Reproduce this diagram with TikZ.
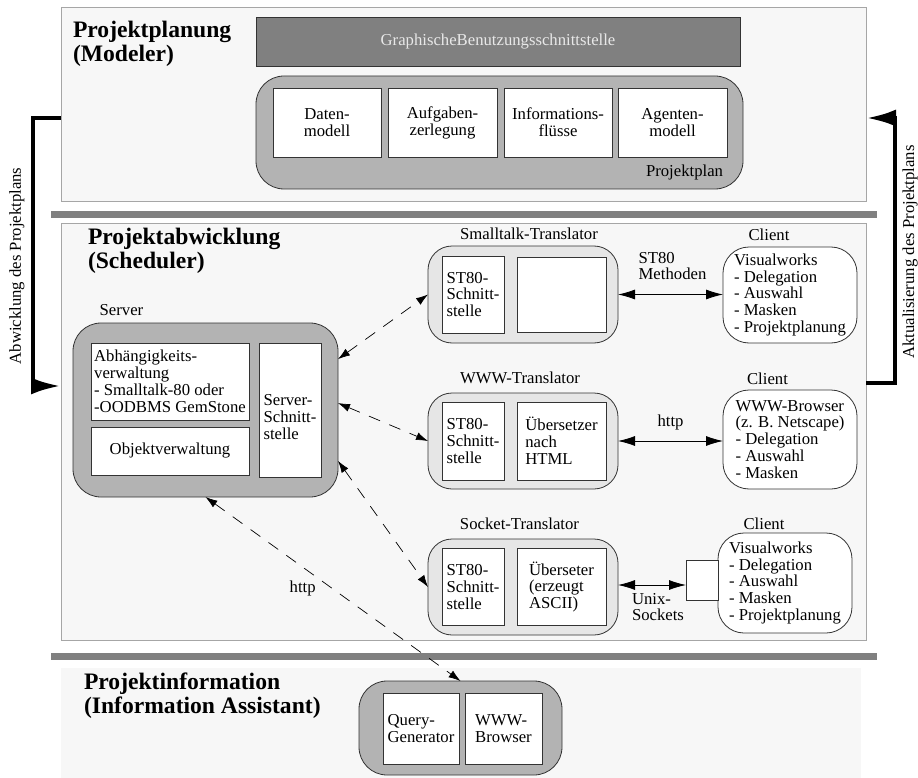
\documentclass[tikz,border=0pt]{standalone}
\usepackage{fontspec}
\setmainfont{Liberation Serif}
\usetikzlibrary{arrows.meta,calc}
\definecolor{panel}{HTML}{F7F7F7}
\definecolor{panelline}{HTML}{A6A6A6}
\definecolor{barcol}{HTML}{808080}
\definecolor{midgray}{HTML}{B3B3B3}
\definecolor{lightgray}{HTML}{E6E6E6}
\definecolor{guitext}{HTML}{E8E8E8}
\begin{document}
\begin{tikzpicture}[x=1pt,y=-1pt,
  font=\fontsize{16.7}{16.9}\selectfont,
  wh/.style 2 args={minimum width=#1pt, minimum height=#2pt},
  every node/.append style={inner sep=0pt, outer sep=0pt},
  panelbox/.style={draw=panelline, fill=panel, line width=1pt},
  barbox/.style={fill=barcol},
  groupbox/.style={draw=black!80, line width=0.8pt, fill=midgray, rounded corners=28pt},
  transbox/.style={draw=black!80, line width=0.8pt, fill=lightgray, rounded corners=24pt},
  clientbox/.style={draw=black!80, line width=0.8pt, fill=white, rounded corners=26pt, align=left},
  whitebox/.style={draw=black!80, line width=0.8pt, fill=white},
  titletext/.style={font=\fontsize{23.6}{24}\bfseries\selectfont, align=left, anchor=north west},
  dasharrow/.style={dash pattern=on 12pt off 10pt, line width=0.7pt, {Latex[length=12pt,width=8pt]}-{Latex[length=12pt,width=8pt]}},
  solidarrow/.style={line width=0.8pt, {Latex[length=17pt,width=10pt]}-{Latex[length=17pt,width=10pt]}},
  bigarrow/.style={line width=4.5pt, line join=miter, -{Latex[length=30pt,width=17pt]}}
]
\useasboundingbox (0,0) rectangle (918,778);

% panels and bars
\node[panelbox, wh={805}{194}] (top) at (463.5,105) {};
\node[panelbox, wh={805}{416}] (midp) at (463.5,432) {};
\node[fill=panel, wh={800}{110}] (botp) at (461,723) {};
\node[barbox, wh={826}{7}] (bar1) at (464,214.5) {};
\node[barbox, wh={826}{7}] (bar2) at (464,656.5) {};

% titles
\node[titletext] (t1) at (73,21) {Projektplanung\\(Modeler)};
\node[titletext] (t2) at (88,228) {Projektabwicklung\\(Scheduler)};
\node[titletext] (t3) at (84,673) {Projektinformation\\(Information Assistant)};

% Modeler
\node[draw=black!80, line width=0.8pt, fill=barcol, text=guitext, wh={484}{49}] (gui) at (498,41.5) {GraphischeBenutzungsschnittstelle};
\node[groupbox, wh={487}{113}] (pplan) at (499.5,132.5) {};
\node[whitebox, wh={108}{69}, align=center] (dm) at (327,122.5) {Daten-\\modell};
\node[whitebox, wh={109}{69}, align=center] (az) at (442.5,122.5) {Aufgaben-\\zerlegung};
\node[whitebox, wh={108}{69}, align=center] (if) at (558,122.5) {Informations-\\flüsse};
\node[whitebox, wh={109}{69}, align=center] (am) at (672.5,122.5) {Agenten-\\modell};
\node[anchor=east] (pplabel) at (723,172) {Projektplan};

% Server
\node (srvlabel) at (121.5,310) {Server};
\node[groupbox, wh={265}{174}] (srv) at (205.5,410) {};
\node[whitebox, wh={158}{77}, align=left] (abh) at (170,381.5) {Abhängigkeits-\\verwaltung\\- Smalltalk-80 oder\\-OODBMS GemStone};
\node[whitebox, wh={158}{48}] (obj) at (170,451) {Objektverwaltung};
\node[whitebox, wh={62}{134}] (ssch) at (290,410) {};
\node[align=left] (sschtext) at (290,417) {Server-\\Schnitt-\\stelle};

% Translators
\node (stlabel) at (529,233.5) {Smalltalk-Translator};
\node[transbox, wh={190}{97}] (st) at (523,294.5) {};
\node[whitebox, wh={62}{77}, align=left] (st80a) at (473,294.5) {ST80-\\Schnitt-\\stelle};
\node[whitebox, wh={89}{75}] (empty) at (561.5,294.5) {};

\node (wwwlabel) at (520,378) {WWW-Translator};
\node[transbox, wh={190}{96}] (www) at (523,441) {};
\node[whitebox, wh={62}{78}, align=left] (st80b) at (473,441) {ST80-\\Schnitt-\\stelle};
\node[whitebox, wh={89}{78}, align=left] (ueb) at (561.5,441) {Übersetzer\\nach\\HTML};

\node (socklabel) at (519.5,524) {Socket-Translator};
\node[transbox, wh={190}{96}] (sock) at (523,587) {};
\node[whitebox, wh={62}{77}, align=left] (st80c) at (473,587) {ST80-\\Schnitt-\\stelle};
\node[whitebox, wh={89}{77}, align=left] (uebs) at (561.5,587) {Überseter\\(erzeugt\\ASCII)};

% Clients
\node (cl1label) at (769,235) {Client};
\node[clientbox, wh={134}{96}] (c1) at (790,295) {Visualworks\\- Delegation\\- Auswahl\\- Masken\\- Projektplanung};
\node (cl2label) at (767.5,379) {Client};
\node[clientbox, wh={134}{99}] (c2) at (790,439.5) {WWW-Browser\\(z. B. Netscape)\\- Delegation\\- Auswahl\\- Masken};
\node (cl3label) at (764,524) {Client};
\node[clientbox, wh={134}{100}] (c3) at (785,583) {Visualworks\\- Delegation\\- Auswahl\\- Masken\\- Projektplanung};
\node[whitebox, wh={32}{40}] (sq) at (702,580) {};

% Information assistant
\node[groupbox, wh={203}{94}] (qb) at (460.5,728) {};
\node[whitebox, wh={76}{71}, align=left] (qg) at (421,728.5) {Query-\\Generator};
\node[whitebox, wh={77}{71}, align=left] (wb) at (503.5,728.5) {WWW-\\Browser};

% horizontal arrows
\draw[solidarrow] (st.east) -- (st.east -| c1.west);
\node[align=left] (stm) at (672.5,266) {ST80\\Methoden};
\draw[solidarrow] (www.east) -- (www.east -| c2.west);
\node (httpa) at (670.5,422) {http};
\draw[solidarrow] ([yshift=2pt]sock.east) -- ([yshift=2pt]sock.east -| sq.west);
\node[align=left, anchor=west] (unix) at (632,607) {Unix-\\Sockets};

% dashed arrows
\draw[dasharrow] (srv.21.4) -- (st.west);
\draw[dasharrow] (srv.3) -- (www.west);
\draw[dasharrow] (srv.-21) -- (sock.west);
\draw[dasharrow] (srv.south) -- (qb.north) node[pos=0.495, xshift=-29pt] {http};

% thick arrows
\draw[bigarrow] ([yshift=-13pt]top.west) -| (33,386) -- ([yshift=46pt]midp.west);
\draw[bigarrow] ([yshift=49pt]midp.east) -| (895,118) -- ([yshift=-13pt]top.east);
\node[rotate=90] (lbl1) at (17,266) {Abwicklung des Projektplans};
\node[rotate=90] (lbl2) at (910,252) {Aktualisierung des Projektplans};
\end{tikzpicture}
\end{document}
